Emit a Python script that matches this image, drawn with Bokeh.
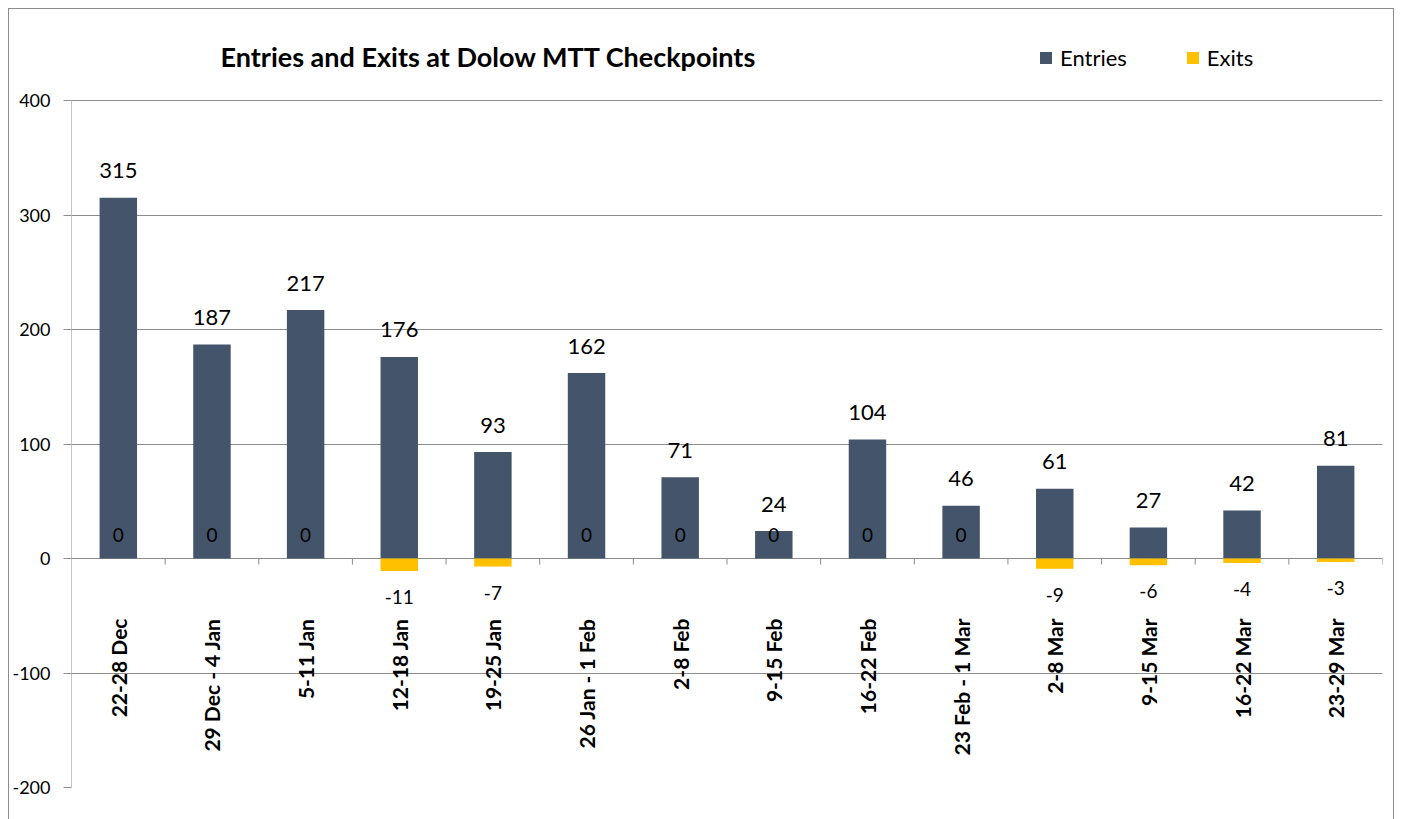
import math
from bokeh.plotting import figure
from bokeh.models import (ColumnDataSource, FactorRange, Range1d, LabelSet, Label,
                          Legend, LegendItem, FixedTicker)
from bokeh.core.properties import value
from bokeh.embed import file_html
from bokeh.resources import INLINE

# ---------------- data ----------------
categories = ["22-28 Dec", "29 Dec - 4 Jan", "5-11 Jan", "12-18 Jan", "19-25 Jan",
              "26 Jan - 1 Feb", "2-8 Feb", "9-15 Feb", "16-22 Feb", "23 Feb - 1 Mar",
              "2-8 Mar", "9-15 Mar", "16-22 Mar", "23-29 Mar"]
entries = [315, 187, 217, 176, 93, 162, 71, 24, 104, 46, 61, 27, 42, 81]
exits = [0, 0, 0, -11, -7, 0, 0, 0, 0, 0, -9, -6, -4, -3]
y_ticks = [-200, -100, 0, 100, 200, 300, 400]
title_text = "Entries and Exits at Dolow MTT Checkpoints"
series_names = ["Entries", "Exits"]

# ---------------- style / layout ----------------
FONT = "Lato"
C_ENT = "#44546A"
C_EXT = "#FFC000"
C_GRID = "#8C8C8C"
W, H = 1386, 811                 # canvas placed at page (8, 8)
B_LEFT, B_RIGHT, B_TOP, B_BOTTOM = 63, 12, 10, 32
PLOT_TOP = 92                    # canvas y of the top gridline (value 400)
FRAME_BOTTOM = H - B_BOTTOM      # canvas y of the -200 line
Y0, Y1 = y_ticks[0], y_ticks[-1]
UNITS_PER_PX = (Y1 - Y0) / (FRAME_BOTTOM - PLOT_TOP)
Y_TOP = Y1 + (PLOT_TOP - B_TOP) * UNITS_PER_PX

p = figure(width=W, height=H,
           x_range=FactorRange(factors=categories, range_padding=0),
           y_range=Range1d(Y0, Y_TOP),
           output_backend="svg", toolbar_location=None, x_axis_location=None,
           min_border_left=B_LEFT, min_border_right=B_RIGHT,
           min_border_top=B_TOP, min_border_bottom=B_BOTTOM)
p.outline_line_color = None
p.border_fill_color = None
p.background_fill_color = None
p.styles = {"margin": "8px 0 0 8px",
            "box-shadow": f"inset 1px 1px 0 0 {C_GRID}, inset -1px 0 0 0 {C_GRID}"}

p.xgrid.grid_line_color = None
p.ygrid.ticker = FixedTicker(ticks=y_ticks)
p.ygrid.grid_line_color = C_GRID
p.ygrid.grid_line_width = 1

ax = p.yaxis[0]
ax.ticker = FixedTicker(ticks=y_ticks)
ax.major_label_overrides = {t: str(t) for t in y_ticks}
ax.axis_line_color = None
ax.major_tick_line_color = C_GRID
ax.major_tick_out = 8
ax.major_tick_in = 0
ax.minor_tick_line_color = None
ax.major_label_standoff = 13
ax.major_label_text_font = FONT
ax.major_label_text_font_size = "18px"
ax.major_label_text_color = "black"

src = ColumnDataSource(dict(
    cat=categories,
    entries=entries,
    exits=exits,
    zero=[0] * len(categories),
    ent_txt=[str(v) for v in entries],
    ex_txt=[str(v) for v in exits],
    ex_off=[24 if v == 0 else -26 for v in exits],
))

# y axis line only over the value span
x_left = (categories[0], -0.5)
p.segment(x0=[x_left], x1=[x_left], y0=[Y0], y1=[Y1], line_color=C_GRID, line_width=1)

r_ent = p.vbar(x="cat", top="entries", bottom=0, width=0.4, fill_color=C_ENT,
               line_color=None, source=src)
r_ext = p.vbar(x="cat", top="exits", bottom=0, width=0.4, fill_color=C_EXT,
               line_color=None, source=src)

# category boundary tick marks on the zero line
tick_len = 6 * UNITS_PER_PX
bx = [(c, 0.5) for c in categories]
p.segment(x0=bx, x1=bx, y0=[0] * len(bx), y1=[-tick_len] * len(bx),
          line_color=C_GRID, line_width=1)

# value labels
p.add_layout(LabelSet(x="cat", y="entries", text="ent_txt", source=src, y_offset=27,
                      text_align="center", text_baseline="middle",
                      text_font=value(FONT), text_font_size="22px", text_color="black"))
p.add_layout(LabelSet(x="cat", y="exits", text="ex_txt", source=src, y_offset="ex_off",
                      text_align="center", text_baseline="middle",
                      text_font=value(FONT), text_font_size="19px", text_color="black"))

# category labels (vertical, below the zero line)
p.add_layout(LabelSet(x="cat", y="zero", text="cat", source=src, y_offset=-60,
                      angle=math.pi / 2, text_align="right", text_baseline="middle",
                      text_font=value(FONT), text_font_size="21px",
                      text_font_style="bold", text_color="black"))

# title (screen units are relative to the frame's bottom-left corner)
p.add_layout(Label(x=149, y=FRAME_BOTTOM - 48, x_units="screen", y_units="screen",
                   text=title_text, text_font=FONT, text_font_size="27px",
                   text_font_style="bold", text_baseline="middle", text_align="left",
                   text_color="black"))

legend = Legend(items=[LegendItem(label=series_names[0], renderers=[r_ent]),
                       LegendItem(label=series_names[1], renderers=[r_ext])],
                orientation="horizontal", location=(967, FRAME_BOTTOM - 63),
                glyph_width=15, glyph_height=15, label_standoff=7, spacing=58,
                padding=0, margin=0, border_line_color=None,
                background_fill_alpha=0, label_text_font=FONT,
                label_text_font_size="22px", label_text_color="black")
p.add_layout(legend)

open("out.html", "w").write(file_html(p, INLINE))
